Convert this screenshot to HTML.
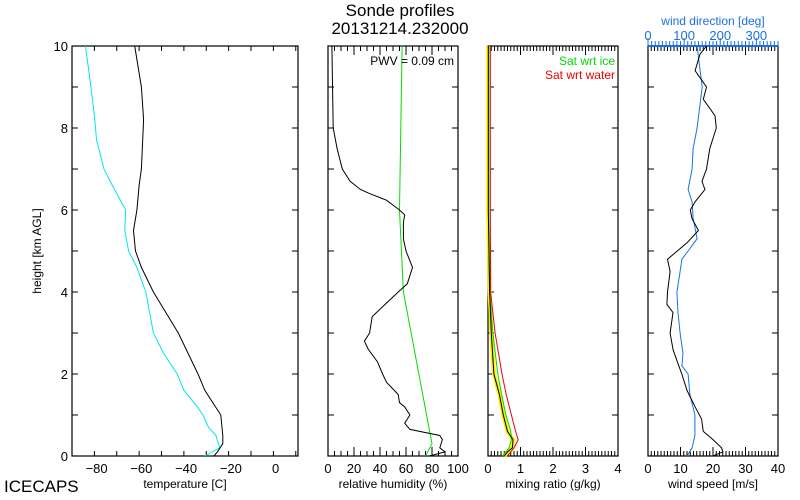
<!DOCTYPE html>
<html><head><meta charset="utf-8"><style>
body{margin:0;background:#fff}
svg{display:block;font-family:"Liberation Sans",sans-serif}
</style></head><body>
<svg id="c" width="800" height="500" xmlns="http://www.w3.org/2000/svg">
<text x="400" y="16" font-size="17" text-anchor="middle">Sonde profiles</text>
<text x="400" y="34" font-size="17" text-anchor="middle">20131214.232000</text>
<text x="4" y="492" font-size="17">ICECAPS</text>
<text transform="translate(41,251) rotate(-90)" font-size="12" text-anchor="middle">height [km AGL]</text>
<g id="g"></g>
</svg>
<script>
// Temperature panel
const tHeights=[0,0.1,0.3,0.5,1,1.6,2,3,4,4.6,5,5.5,6,6.6,7,8.2,9,10];
const tempVals=[-27.6,-26,-23.6,-23.6,-24.5,-31.6,-34.7,-43.5,-54.6,-60,-62.6,-63.5,-62,-61,-60,-59,-60,-63];
const dHeights=[0,0.2,0.5,0.7,1,1.2,1.6,2,2.5,3,4,4.6,5,5.5,6,6.2,6.6,7,7.7,8.3,9.2,10];
const dewVals=[-31.6,-25,-26.7,-30,-32.5,-35,-41,-44,-50,-54.6,-58,-62,-65.7,-67.4,-67,-69,-73,-76.7,-80,-81,-83,-85];
// RH panel
const rhHeights=[0,0.1,0.2,0.4,0.5,0.65,0.8,1,1.2,1.3,1.5,1.8,2,2.3,2.6,2.8,3,3.4,3.7,4,4.2,4.6,5,5.3,5.7,5.88,6.0,6.24,6.4,6.5,6.7,7,7.5,8,10];
const rhVals=[78,90,86,88,86,63,59,63,59,55,54,45,42,38,31,28,32,34,44,54,61,65,60,58,58,59,55,45,32,25,17,11,7,4,3];
const rhiHeights=[0,0.3,4,6,10];
const rhiVals=[75,80,58,55,57];
// Mixing ratio panel
const mHeights=[0,0.1,0.2,0.4,0.6,1,1.5,2,3,4,6,10];
const mixVals=[0.5,0.6,0.75,0.77,0.6,0.47,0.35,0.18,0.1,0.05,0.01,0.01];
const mIceVals=[0.45,0.55,0.65,0.72,0.7,0.55,0.42,0.3,0.15,0.05,0.02,0.02];
const mWatVals=[0.6,0.7,0.8,0.93,0.85,0.72,0.56,0.43,0.22,0.08,0.07,0.07];
// Wind panel
const wsHeights=[0,0.1,0.2,0.4,0.6,0.9,1.2,1.6,2,2.3,2.6,3,3.5,3.7,4,4.5,4.8,5,5.2,5.5,5.8,6,6.2,6.5,6.7,7,7.5,8,8.3,8.7,9,9.4,9.8,10];
const wsVals=[20,23,22.6,20,17,16.5,14.5,12,10.4,9,7.7,6.8,7.7,5.8,6,6.8,6,9,12,15.5,13.5,13,14.5,17.5,16.6,18,19,21,20.6,17,18,14.5,16,18];
const wdHeights=[0,0.2,0.5,1,1.5,2,2.2,2.5,3,3.5,4,4.5,4.8,5,5.3,5.8,6.2,6.5,7,7.5,8,9,10];
const wdVals=[108,122,130,130,116,111,94,97,89,83,80,89,94,111,136,125,122,111,122,125,136,150,136];

const S="http://www.w3.org/2000/svg";
const g=document.getElementById('g');
function el(t,a,txt){const e=document.createElementNS(S,t);for(const k in a)e.setAttribute(k,a[k]);if(txt!==undefined)e.textContent=txt;g.appendChild(e);return e;}
const Y0=456,Y1=46;
function yS(h){return Y0+(Y1-Y0)*h/10;}
function xS(p,v){return p.x0+(p.x1-p.x0)*(v-p.d0)/(p.d1-p.d0);}
const P1={x0:72,x1:298,d0:-91,d1:10},P2={x0:328,x1:458,d0:0,d1:100},P3={x0:488,x1:618,d0:0,d1:4},P4={x0:648,x1:778,d0:0,d1:40},P4t={x0:648,x1:778,d0:0,d1:360};
function line(p,hs,vs,col,w,name){
  let d='';hs.forEach((h,i)=>{d+=(i?'L':'M')+xS(p,vs[i]).toFixed(1)+','+yS(h).toFixed(1);});
  const e=el('path',{d:d,fill:'none',stroke:col,'stroke-width':w||1});
  
  
}
function frame(p,name,ticks,minor,labels,title,leftLabels){
  const f=el('rect',{x:p.x0,y:Y1,width:p.x1-p.x0,height:Y0-Y1,fill:'none',stroke:'#000','stroke-width':1.2});
  
  
  for(let v=p.d0;v<=p.d1+1e-9;v+=minor){const x=xS(p,v);const major=ticks.some(t=>Math.abs(t-v)<1e-6);
    el('line',{x1:x,x2:x,y1:Y0,y2:Y0-(major?9:5),stroke:'#000'});el('line',{x1:x,x2:x,y1:Y1,y2:Y1+(major?9:5),stroke:'#000'});}
  for(let h=0;h<=10;h++){const y=yS(h);el('line',{x1:p.x0,x2:p.x0+6,y1:y,y2:y,stroke:'#000'});el('line',{x1:p.x1,x2:p.x1-6,y1:y,y2:y,stroke:'#000'});
    if(leftLabels&&h%2==0){const t=el('text',{x:p.x0-4,y:y+5,'font-size':13,'text-anchor':'end'},String(h));}}
  labels.forEach(v=>{const t=el('text',{x:xS(p,v),y:Y0+17,'font-size':13,'text-anchor':'middle'},v<0?'\u2212'+(-v):String(v));});
  const tt=el('text',{x:(p.x0+p.x1)/2,y:Y0+32,'font-size':12,'text-anchor':'middle'},title);
  
  
}
frame(P1,'temperature-panel',[-80,-60,-40,-20,0],10,[-80,-60,-40,-20,0],'temperature [C]',true);
frame(P2,'rh-panel',[0,20,40,60,80,100],5,[0,20,40,60,80,100],'relative humidity (%)',false);
frame(P3,'mixing-panel',[0,1,2,3,4],0.1,[0,1,2,3,4],'mixing ratio (g/kg)',false);
frame(P4,'wind-panel',[0,10,20,30,40],1,[0,10,20,30,40],'wind speed [m/s]',false);
// top blue axis for wind direction
el('line',{x1:648,x2:778,y1:Y1,y2:Y1,stroke:'#1a6fe6','stroke-width':2});
for(let v=0;v<=360;v+=10){const x=xS(P4t,v);el('line',{x1:x,x2:x,y1:Y1,y2:Y1-(v%100==0?8:5),stroke:'#1a6fe6'});}
[0,100,200,300].forEach(v=>{const t=el('text',{x:xS(P4t,v),y:40,'font-size':13,'text-anchor':'middle',fill:'#1a6fe6'},String(v));});
const wt=el('text',{x:713,y:25,'font-size':12,'text-anchor':'middle',fill:'#1a6fe6'},'wind direction [deg]');



line(P1,dHeights,dewVals,'#00e5ee',1,'dewpoint-line');
line(P1,tHeights,tempVals,'#000',1,'temperature-line');
line(P2,rhiHeights,rhiVals,'#00dd00',1,'rh-ice-line');
line(P2,rhHeights,rhVals,'#000',1,'rh-line');
const pw=el('text',{x:454,y:65,'font-size':12,'text-anchor':'end'},'PWV = 0.09 cm');


line(P3,mHeights,mixVals,'#ffee00',4,'mixing-ratio-uncertainty');
line(P3,mHeights,mWatVals,'#ee0000',1,'sat-water-line');
line(P3,mHeights,mIceVals,'#00dd00',1,'sat-ice-line');
line(P3,mHeights,mixVals,'#000',1,'mixing-ratio-line');
const l1=el('text',{x:615,y:65,'font-size':12,'text-anchor':'end',fill:'#00dd00'},'Sat wrt ice');


const l2=el('text',{x:615,y:79,'font-size':12,'text-anchor':'end',fill:'#ee0000'},'Sat wrt water');


line(P4t,wdHeights,wdVals,'#1a6fe6',1,'wind-direction-line');
line(P4,wsHeights,wsVals,'#000',1,'wind-speed-line');
</script>
</body></html>
